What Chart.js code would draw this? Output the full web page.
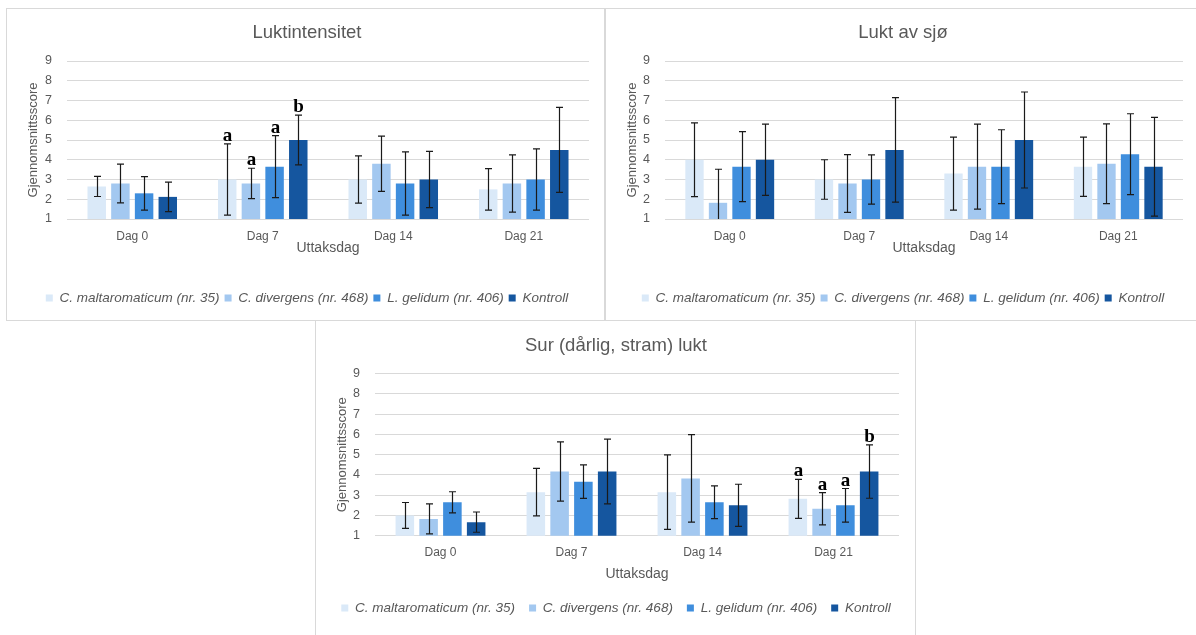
<!DOCTYPE html>
<html>
<head>
<meta charset="utf-8">
<script src="https://cdn.jsdelivr.net/npm/chart.js@4/dist/chart.umd.min.js"></script>
<style>
body { margin: 0; background: #fff; width: 1196px; height: 635px; overflow: hidden; position: relative; }
.panel { position: absolute; box-sizing: border-box; border: 1px solid #d9d9d9; background: #fff; }
canvas { position: absolute; }
</style>
</head>
<body>
<div class="panel" style="left:6px;top:8px;width:599px;height:313px"></div>
<div class="panel" style="left:605px;top:8px;width:592px;height:313px"></div>
<div class="panel" style="left:315px;top:320px;width:601px;height:330px"></div>
<canvas id="c1" width="602" height="313" style="left:6px;top:8px"></canvas>
<canvas id="c2" width="596" height="313" style="left:605px;top:8px"></canvas>
<canvas id="c3" width="602" height="315" style="left:315px;top:320px"></canvas>
<script>
var categories = ['Dag 0', 'Dag 7', 'Dag 14', 'Dag 21'];
var seriesNames = ['C. maltaromaticum (nr. 35)', 'C. divergens (nr. 468)', 'L. gelidum (nr. 406)', 'Kontroll'];
var seriesColors = ['#DAE9F8', '#A3C8F0', '#3F8EDD', '#15569F'];

// Luktintensitet: one row per series, one value per day
var intensMean = [
    [2.65, 3.0, 3.0, 2.5],
    [2.8, 2.8, 3.8, 2.8],
    [2.3, 3.65, 2.8, 3.0],
    [2.12, 5.0, 3.0, 4.5]
];
var intensErr = [
    [0.51, 1.8, 1.2, 1.05],
    [0.98, 0.77, 1.4, 1.45],
    [0.85, 1.57, 1.6, 1.55],
    [0.75, 1.26, 1.42, 2.15]
];
var intensLetters = [
    ['', 'a', '', ''],
    ['', 'a', '', ''],
    ['', 'a', '', ''],
    ['', 'b', '', '']
];

// Lukt av sjø
var seaMean = [
    [4.0, 3.0, 3.3, 3.65],
    [1.82, 2.8, 3.65, 3.8],
    [3.65, 3.0, 3.65, 4.28],
    [4.0, 4.5, 5.0, 3.65]
];
var seaErr = [
    [1.87, 1.0, 1.85, 1.5],
    [1.7, 1.46, 2.15, 2.02],
    [1.77, 1.25, 1.87, 2.05],
    [1.8, 2.65, 2.43, 2.5]
];

// Sur (dårlig, stram) lukt
var sourMean = [
    [2.0, 3.15, 3.15, 2.82],
    [1.83, 4.17, 3.83, 2.33],
    [2.65, 3.67, 2.65, 2.5],
    [1.67, 4.17, 2.5, 4.17]
];
var sourErr = [
    [0.64, 1.17, 1.84, 0.96],
    [0.74, 1.46, 2.16, 0.8],
    [0.52, 0.83, 0.81, 0.83],
    [0.5, 1.6, 1.04, 1.32]
];
var sourLetters = [
    ['', '', '', 'a'],
    ['', '', '', 'a'],
    ['', '', '', 'a'],
    ['', '', '', 'b']
];

var yTicks = [1, 2, 3, 4, 5, 6, 7, 8, 9];

Chart.defaults.font.family = '"Liberation Sans", Arial, sans-serif';
Chart.defaults.color = '#595959';

// draws the +/- error bars and the significance letters on top of the bars
var errorBarPlugin = {
    id: 'errorBars',
    afterDatasetsDraw: function (chart) {
        var ctx = chart.ctx;
        var area = chart.chartArea;
        var yScale = chart.scales.y;
        ctx.save();
        ctx.strokeStyle = '#1a1a1a';
        ctx.lineWidth = 1.2;
        chart.data.datasets.forEach(function (ds, i) {
            var meta = chart.getDatasetMeta(i);
            meta.data.forEach(function (bar, j) {
                var v = ds.data[j], e = ds.errors[j];
                var top = yScale.getPixelForValue(v + e);
                var bot = yScale.getPixelForValue(v - e);
                var clipped = bot > area.bottom;
                if (clipped) bot = area.bottom;
                var x = Math.round(bar.x) + 0.5;
                ctx.beginPath();
                ctx.moveTo(x, top);
                ctx.lineTo(x, bot);
                ctx.moveTo(x - 3.5, top);
                ctx.lineTo(x + 3.5, top);
                if (!clipped) {
                    ctx.moveTo(x - 3.5, bot);
                    ctx.lineTo(x + 3.5, bot);
                }
                ctx.stroke();
                if (ds.letters && ds.letters[j]) {
                    ctx.fillStyle = '#000';
                    ctx.font = 'bold 19px "Liberation Serif", serif';
                    ctx.textAlign = 'center';
                    ctx.textBaseline = 'alphabetic';
                    ctx.fillText(ds.letters[j], x, top - 3);
                }
            });
        });
        ctx.restore();
    }
};

function makeChart(id, title, means, errs, letters, lay) {
    var datasets = [];
    means.forEach(function (values, i) {
        datasets.push({
            label: seriesNames[i],
            data: values,
            errors: errs[i],
            letters: letters ? letters[i] : null,
            backgroundColor: seriesColors[i],
            borderWidth: 0,
            categoryPercentage: 0.726,
            barPercentage: 0.78
        });
    });

    return new Chart(document.getElementById(id), {
        type: 'bar',
        data: {
            labels: categories,
            datasets: datasets
        },
        plugins: [errorBarPlugin],
        options: {
            responsive: false,
            animation: false,
            layout: {
                padding: { left: 0, right: 0, top: 0, bottom: lay.bottom }
            },
            plugins: {
                title: {
                    display: true,
                    text: title,
                    color: '#595959',
                    font: { size: 18.5, weight: 'normal' },
                    padding: { top: lay.titleTop, bottom: lay.titleBottom }
                },
                legend: {
                    position: 'bottom',
                    labels: {
                        boxWidth: 7,
                        boxHeight: 7,
                        padding: lay.legendPad,
                        color: '#595959',
                        font: { size: 13.5, style: 'italic' }
                    }
                },
                tooltip: { enabled: false }
            },
            scales: {
                x: {
                    grid: { display: false, drawTicks: false },
                    border: { display: false },
                    ticks: { padding: 10, font: { size: 12 } },
                    title: {
                        display: true,
                        text: 'Uttaksdag',
                        font: { size: 14 },
                        padding: { top: lay.axisTop, bottom: lay.axisBottom }
                    }
                },
                y: {
                    min: yTicks[0],
                    max: yTicks[yTicks.length - 1],
                    grid: { color: '#d9d9d9', drawTicks: false },
                    border: { display: false },
                    ticks: { stepSize: 1, autoSkip: false, padding: 15, font: { size: 12.5 } },
                    title: {
                        display: true,
                        text: 'Gjennomsnittsscore',
                        font: { size: 13 },
                        padding: { top: 20, bottom: 0 }
                    },
                    afterFit: function (scale) { scale.width = lay.leftAxis; }
                },
                // empty axis on the right, only keeps the plot edge where it is
                yRight: {
                    position: 'right',
                    display: true,
                    grid: { display: false, drawTicks: false },
                    border: { display: false },
                    ticks: { display: false },
                    afterFit: function (scale) { scale.width = lay.rightAxis; }
                }
            }
        }
    });
}

makeChart('c1', 'Luktintensitet', intensMean, intensErr, intensLetters,
    { leftAxis: 61, rightAxis: 19, bottom: 6.25, titleTop: 13.9, titleBottom: 16.9, legendPad: 5, axisTop: -13.3, axisBottom: 29.35 });
makeChart('c2', 'Lukt av sjø', seaMean, seaErr, null,
    { leftAxis: 60, rightAxis: 18, bottom: 6.25, titleTop: 13.9, titleBottom: 16.9, legendPad: 5, axisTop: -13.3, axisBottom: 29.35 });
makeChart('c3', 'Sur (dårlig, stram) lukt', sourMean, sourErr, sourLetters,
    { leftAxis: 60, rightAxis: 18, bottom: 10.25, titleTop: 14.9, titleBottom: 16.6, legendPad: 14, axisTop: -4.5, axisBottom: 4.85 });
</script>
</body>
</html>
